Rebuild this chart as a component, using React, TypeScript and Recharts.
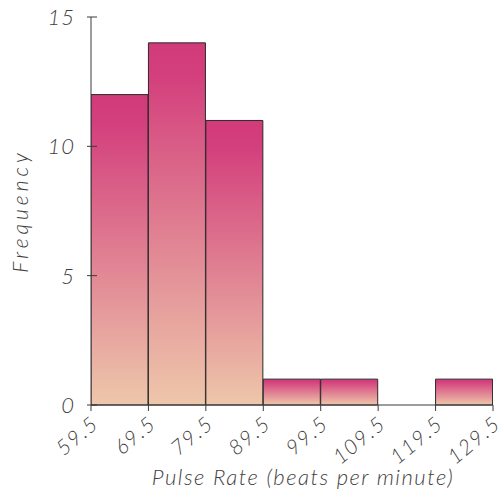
import React from 'react';
import { BarChart, Bar, XAxis, YAxis, Label } from 'recharts';

// Pulsfrekvens-histogram, klassebredde 10. Søylene står på klassemidtpunktene.
const binMids = [64.5, 74.5, 84.5, 94.5, 104.5, 114.5, 124.5];
const frequencies = [12, 14, 11, 1, 1, 0, 1];
const binEdges = [59.5, 69.5, 79.5, 89.5, 99.5, 109.5, 119.5, 129.5];
const yTicks = [0, 5, 10, 15];

const data = binMids.map((mid, i) => ({ mid, freq: frequencies[i] }));

const FONT = '"Lato", "Open Sans", sans-serif';
const INK = '#3f3f3f';
const AXIS = '#3a3a3a';

const textStyle = {
  fill: INK,
  fontFamily: FONT,
  fontStyle: 'italic',
  fontWeight: 300,
} as const;

const YTick = ({ x, y, payload }: any) => (
  <g>
    <line x1={x + 4} x2={x + 14} y1={y} y2={y} stroke={AXIS} strokeWidth={1} />
    <text x={x - 8} y={y} dy={8} textAnchor="end" fontSize={22} letterSpacing={1} {...textStyle}>
      {payload.value}
    </text>
  </g>
);

const XTick = ({ x, y, payload }: any) => (
  <g>
    <line x1={x} x2={x} y1={y - 8} y2={y - 2} stroke={AXIS} strokeWidth={1} />
    <text
      transform={`translate(${x + 9},${y + 13}) rotate(-40)`}
      textAnchor="end"
      fontSize={21}
      letterSpacing={1.5}
      {...textStyle}
    >
      {payload.value}
    </text>
  </g>
);

export default function App() {
  return (
    <div style={{ position: 'absolute', left: 0, top: 0, width: 503, height: 495, background: '#fff' }}>
      <BarChart
        width={503}
        height={495}
        data={data}
        barCategoryGap={0}
        margin={{ top: 17, right: 10, left: 31, bottom: 40 }}
      >
        <defs>
          <linearGradient id="pulse-fill" x1="0" y1="0" x2="0" y2="1">
            <stop offset="0%" stopColor="#D23B7A" />
            <stop offset="8%" stopColor="#D33E7C" />
            <stop offset="100%" stopColor="#EEC7AA" />
          </linearGradient>
        </defs>
        <XAxis
          dataKey="mid"
          type="number"
          domain={[59.5, 129.5]}
          ticks={binEdges}
          allowDataOverflow
          height={50}
          axisLine={{ stroke: AXIS }}
          tickLine={false}
          tick={<XTick />}
          interval={0}
        >
          <Label
            content={() => (
              <text x={303} y={485} textAnchor="middle" fontSize={22} letterSpacing={1.5} {...textStyle}>
                Pulse Rate (beats per minute)
              </text>
            )}
          />
        </XAxis>
        <YAxis
          domain={[0, 15]}
          ticks={yTicks}
          width={60}
          axisLine={{ stroke: AXIS }}
          tickLine={false}
          tick={<YTick />}
        >
          <Label
            content={() => (
              <text
                transform="translate(28,211) rotate(-90)"
                textAnchor="middle"
                fontSize={21}
                letterSpacing={4}
                {...textStyle}
              >
                Frequency
              </text>
            )}
          />
        </YAxis>
        <Bar
          dataKey="freq"
          fill="url(#pulse-fill)"
          stroke="#2a2a2a"
          strokeWidth={1}
          isAnimationActive={false}
        />
      </BarChart>
    </div>
  );
}
